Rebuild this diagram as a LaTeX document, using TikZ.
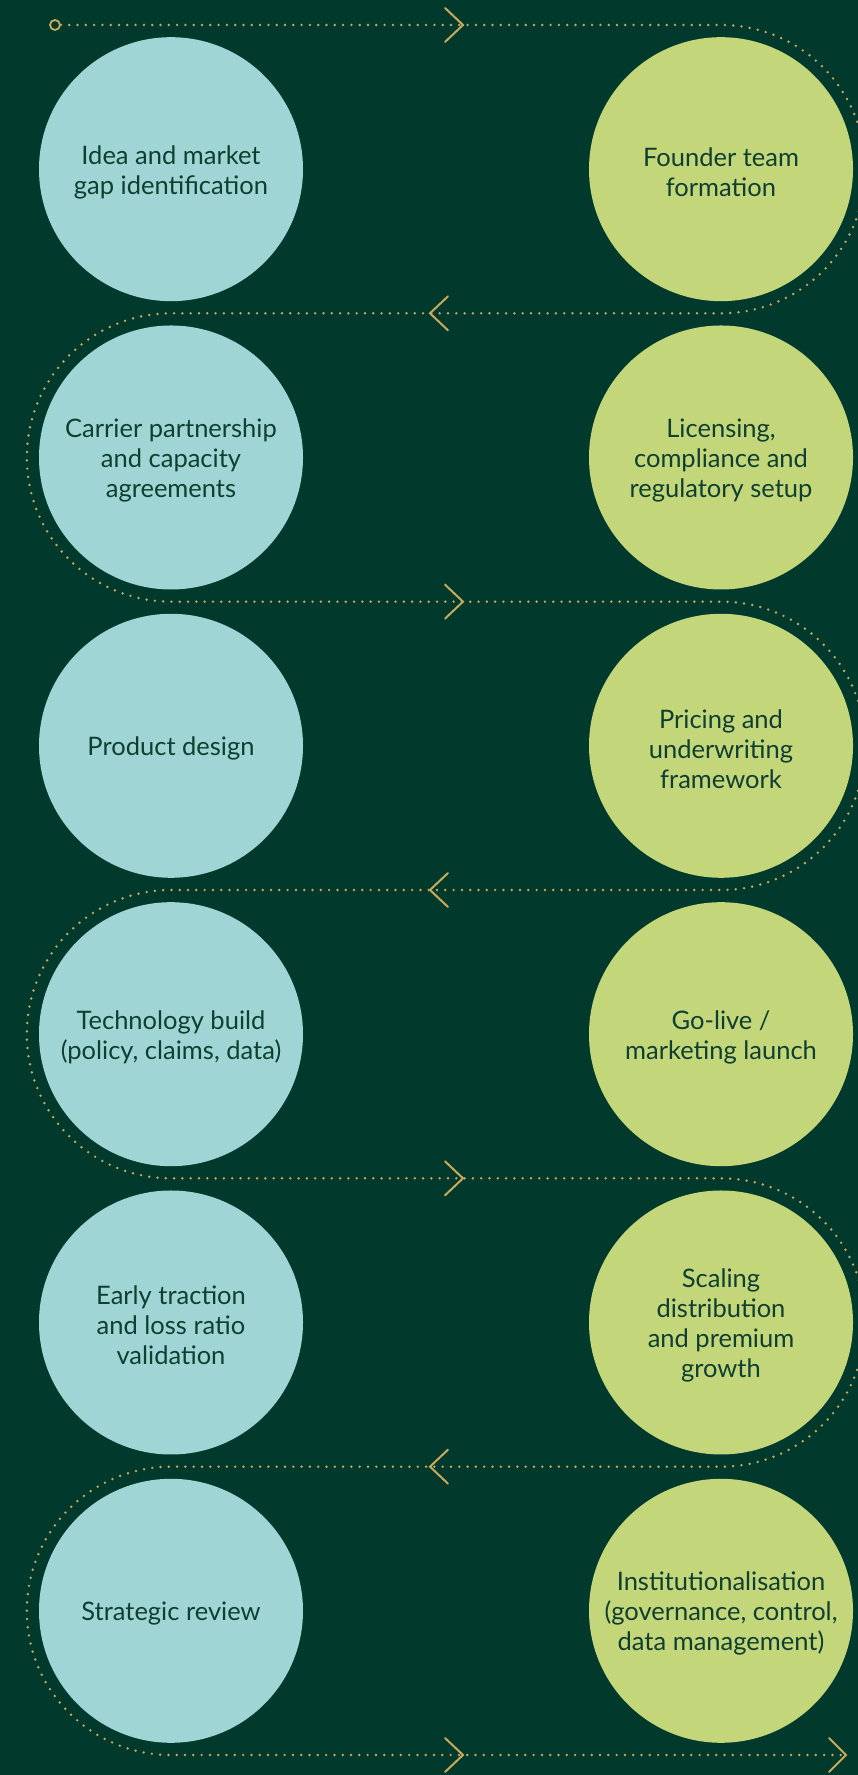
\documentclass[tikz,border=0pt]{standalone}
\usepackage{fontspec}
\setmainfont{Lato}
\begin{document}
\definecolor{bgGreen}{HTML}{013A2C}
\definecolor{aqua}{HTML}{9FD5D4}
\definecolor{lime}{HTML}{C3D67A}
\definecolor{inkGreen}{HTML}{0F3F30}
\definecolor{gold}{HTML}{C9A95E}
\begin{tikzpicture}[x=1pt,y=1pt,
  stage/.style={circle, minimum size=264pt, inner sep=0pt},
  leftstage/.style={stage, fill=aqua},
  rightstage/.style={stage, fill=lime},
  caption/.style={align=center, inner sep=0pt, text=inkGreen,
    font=\fontsize{25.5}{30}\selectfont},
  trail/.style={draw=gold, line width=2.7pt, line cap=round,
    dash pattern=on 0pt off 8.3pt},
  chevron/.style={draw=gold, line width=2pt, line cap=round, line join=miter},
  startmark/.style={circle, draw=gold, line width=1.8pt, minimum size=10pt, inner sep=0pt}]
\useasboundingbox (0,0) rectangle (858,1775);
\fill[bgGreen] (0,0) rectangle (858,1775);
\clip (0,0) rectangle (858,1775);

% stages, two columns
\node[leftstage]  (s1)  at (171,1605.8) {};
\node[rightstage] (s2)  at (721,1605.8) {};
\node[leftstage]  (s3)  at (171,1317.5) {};
\node[rightstage] (s4)  at (721,1317.5) {};
\node[leftstage]  (s5)  at (171,1029.2) {};
\node[rightstage] (s6)  at (721,1029.2) {};
\node[leftstage]  (s7)  at (171,740.8)  {};
\node[rightstage] (s8)  at (721,740.8)  {};
\node[leftstage]  (s9)  at (171,452.5)  {};
\node[rightstage] (s10) at (721,452.5)  {};
\node[leftstage]  (s11) at (171,164.2)  {};
\node[rightstage] (s12) at (721,164.2)  {};

% stage captions, set a little below each centre
\node[caption] (t1)  at ([yshift=-3pt]s1.center)  {Idea and market\\gap identification};
\node[caption] (t2)  at ([yshift=-3pt]s2.center)  {Founder team\\formation};
\node[caption] (t3)  at ([yshift=-3pt]s3.center)  {Carrier partnership\\and capacity\\agreements};
\node[caption] (t4)  at ([yshift=-3pt]s4.center)  {Licensing,\\compliance and\\regulatory setup};
\node[caption] (t5)  at ([yshift=-3pt]s5.center)  {Product design};
\node[caption] (t6)  at ([yshift=-3pt]s6.center)  {Pricing and\\underwriting\\framework};
\node[caption] (t7)  at ([yshift=-3pt]s7.center)  {Technology build\\(policy, claims, data)};
\node[caption] (t8)  at ([yshift=-3pt]s8.center)  {Go-live /\\marketing launch};
\node[caption] (t9)  at ([yshift=-3pt]s9.center)  {Early traction\\and loss ratio\\validation};
\node[caption] (t10) at ([yshift=-3pt]s10.center) {Scaling\\distribution\\and premium\\growth};
\node[caption] (t11) at ([yshift=-3pt]s11.center) {Strategic review};
\node[caption] (t12) at ([yshift=-3pt]s12.center) {Institutionalisation\\(governance, control,\\data management)};

% start marker and end of the trail
\node[startmark] (start) at (55,1750) {};
\coordinate (finish) at (846,20);

% dotted serpentine trail
\path[trail] (start.east) -- (721,1750)
  arc[start angle=90, end angle=-90, radius=144.17] -- (171,1461.67)
  arc[start angle=90, end angle=270, radius=144.17] -- (721,1173.33)
  arc[start angle=90, end angle=-90, radius=144.17] -- (171,885)
  arc[start angle=90, end angle=270, radius=144.17] -- (721,596.67)
  arc[start angle=90, end angle=-90, radius=144.17] -- (171,308.33)
  arc[start angle=90, end angle=270, radius=144.17] -- (finish);

% direction chevrons
\foreach \yy in {1750,1173.33,596.67,20}
  \draw[chevron] (445,\yy+17) -- (463,\yy) -- (445,\yy-17);
\foreach \yy in {1461.67,885,308.33}
  \draw[chevron] (448,\yy+17) -- (430,\yy) -- (448,\yy-17);
\draw[chevron] (829,37) -- (finish) -- (829,3);
\end{tikzpicture}
\end{document}
